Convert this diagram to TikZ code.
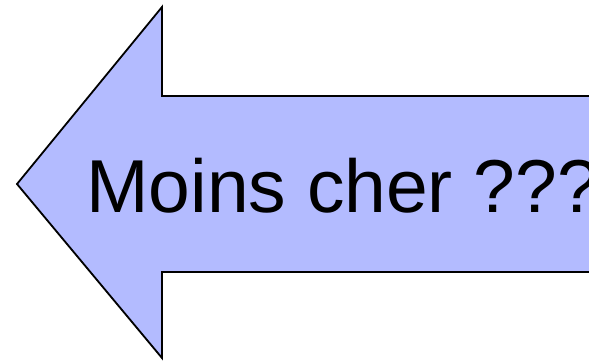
\documentclass[tikz,border=0pt]{standalone}
\usepackage{fontspec}
\setmainfont{Liberation Sans}
\definecolor{arrowfill}{RGB}{179,187,255}
\tikzset{
  bigarrow/.style={draw=black, fill=arrowfill, line width=1.8pt, line join=miter},
  arrowtext/.style={inner sep=0pt, anchor=base west, font=\fontsize{75}{80}\selectfont}
}
\begin{document}
\begin{tikzpicture}[x=1pt,y=-1pt]
  \useasboundingbox (0,0) rectangle (589,361);
  \clip (0,0) rectangle (589,361);
  % left-pointing block arrow, its shaft running off the right edge
  \draw[bigarrow] (17,184) -- (162,7) -- (162,96) -- (620,96) -- (620,272)
    -- (162,272) -- (162,358) -- cycle;
  \node[arrowtext] (label) at (86,212) {Moins cher ???};
\end{tikzpicture}
\end{document}
